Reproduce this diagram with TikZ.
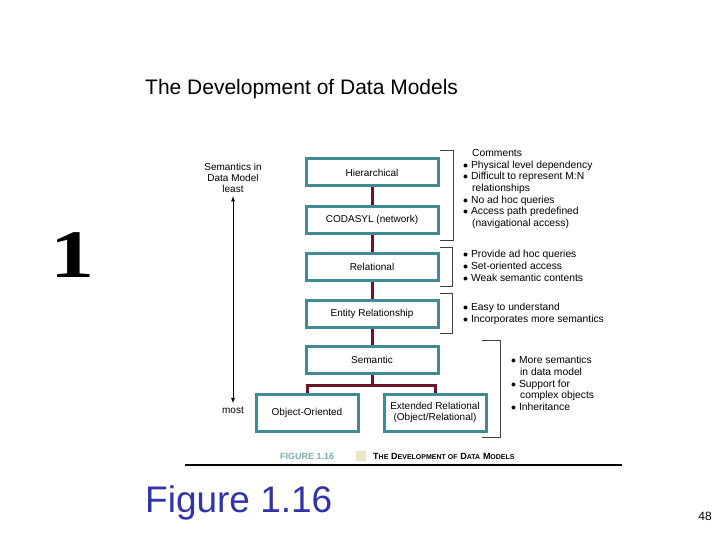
\documentclass[tikz,border=0pt]{standalone}
\usepackage{fontspec}
\setmainfont{Liberation Sans}
\newfontfamily\serifnum{Liberation Serif}
\usetikzlibrary{positioning}
\definecolor{boxteal}{RGB}{64,140,150}
\definecolor{linkred}{RGB}{110,20,40}
\definecolor{figblue}{RGB}{50,50,170}
\definecolor{capbeige}{RGB}{235,228,190}
\newcommand{\capsc}[2]{{\fontsize{9}{10}\selectfont #1}{\fontsize{7}{10}\selectfont #2}}
\tikzset{
  model/.style={draw=boxteal, line width=3pt, minimum width=132pt, minimum height=27pt, font=\fontsize{10}{11}\selectfont, align=center, inner sep=1pt},
  link/.style={draw=linkred, line width=3pt},
  brace/.style={draw=black!75, line width=0.7pt},
  note/.style={font=\fontsize{10.3}{11.7}\selectfont, align=left, anchor=north west, inner sep=0pt}
}
\begin{document}
\begin{tikzpicture}[x=1pt,y=-1pt]
\useasboundingbox (0,0) rectangle (720,540);

% title and slide texts
\node[font=\fontsize{21}{24}\selectfont, anchor=west, inner sep=0pt] (title) at (145,89) {The Development of Data Models};
\node[font=\serifnum\bfseries\fontsize{68}{68}\selectfont, xscale=1.3] (num) at (73,255) {1};
\node[font=\fontsize{37}{40}\selectfont, text=figblue, anchor=west, inner sep=0pt] (fig) at (145,503) {Figure 1.16};
\node[font=\fontsize{12}{13}\selectfont] (page) at (705,516) {48};

% models
\node[model] (hier) at (372,172.5) {Hierarchical};
\node[model] (coda) at (372,220) {CODASYL (network)};
\node[model] (rel) at (372,266.5) {Relational};
\node[model] (er) at (372,313.5) {Entity Relationship};
\node[model] (sem) at (372,359.5) {Semantic};
\node[model, minimum width=102pt, minimum height=37pt] (oo) at (307,412.5) {Object-Oriented};
\node[model, minimum width=102pt, minimum height=37pt] (ext) at (435,412.5) {Extended Relational\\(Object/Relational)};

% links
\draw[link] (hier) -- (coda);
\draw[link] (coda) -- (rel);
\draw[link] (rel) -- (er);
\draw[link] (er) -- (sem);
\coordinate (fork) at (372,385);
\draw[link] (sem) -- (fork);
\draw[link] (oo.north) |- (fork) -| (ext.north);

% semantics axis
\node[font=\fontsize{10}{11}\selectfont, align=center] (least) at (233,178) {Semantics in\\Data Model\\least};
\node[font=\fontsize{10}{11}\selectfont] (most) at (233,410) {most};
\draw[-latex, line width=0.8pt] (233,240) -- (least.south);
\draw[-latex, line width=0.8pt] (233,240) -- (most.north);

% brackets
\draw[brace] (440,150) -- (453,150) -- (453,240) -- (440,240);
\draw[brace] (440,247) -- (452,247) -- (452,286) -- (440,286);
\draw[brace] (440,293) -- (452,293) -- (452,333) -- (440,333);
\draw[brace] (482,340) -- (500,340) -- (500,437) -- (482,437);

% comments
\node[note] (c1) at (463,149) {\hspace*{9pt}Comments\\
$\bullet$ Physical level dependency\\
$\bullet$ Difficult to represent M:N\\
\hspace*{9pt}relationships\\
$\bullet$ No ad hoc queries\\
$\bullet$ Access path predefined\\
\hspace*{9pt}(navigational access)};
\node[note] (c2) at (463,250) {$\bullet$ Provide ad hoc queries\\
$\bullet$ Set-oriented access\\
$\bullet$ Weak semantic contents};
\node[note] (c3) at (463,303) {$\bullet$ Easy to understand\\
$\bullet$ Incorporates more semantics};
\node[note] (c4) at (511,356) {$\bullet$ More semantics\\
\hspace*{9pt}in data model\\
$\bullet$ Support for\\
\hspace*{9pt}complex objects\\
$\bullet$ Inheritance};

% caption
\node[font=\bfseries\fontsize{9}{10}\selectfont, text=boxteal!70, anchor=west, inner sep=0pt] (capnum) at (280,456) {FIGURE 1.16};
\fill[capbeige] (356,451) rectangle (366,461);
\node[font=\bfseries, anchor=west, inner sep=0pt] (captxt) at (373,456) {\capsc{T}{HE} \capsc{D}{EVELOPMENT OF} \capsc{D}{ATA} \capsc{M}{ODELS}};
\draw[line width=1.5pt] (185,465) -- (622,465);
\end{tikzpicture}
\end{document}
